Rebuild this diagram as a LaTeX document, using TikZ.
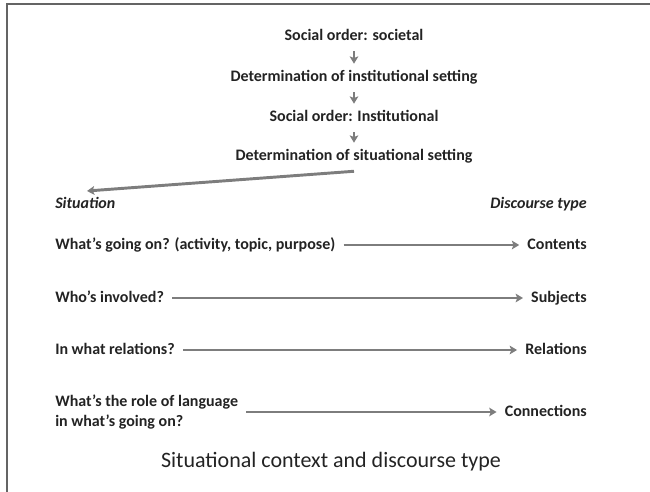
\documentclass[tikz,border=0pt]{standalone}
\usepackage{fontspec}
\setmainfont{Carlito}
\usepackage{xcolor}
\usetikzlibrary{arrows.meta}
\definecolor{arrowgray}{RGB}{125,125,125}
\definecolor{textgray}{RGB}{35,35,35}
\definecolor{framegray}{RGB}{100,100,100}
\tikzset{
	txt/.style={font=\bfseries\fontsize{12}{15}\selectfont, text=textgray, inner sep=0pt, text height=9pt, text depth=3pt},
	head/.style={txt, font=\bfseries\itshape\fontsize{12}{15}\selectfont},
	flow/.style={draw=arrowgray, line width=2.2pt, -{Stealth[length=5.5pt,width=6.5pt,inset=1.2pt]}, shorten <=6pt, shorten >=6pt}
}

\begin{document}
\begin{tikzpicture}[x=0.75pt,y=-0.75pt]
		\useasboundingbox (0,0) rectangle (650,492);
		\draw[framegray, line width=1.8pt] (7,492) -- (7,4) -- (650,4);
		\foreach \y/\t [count=\i] in {37/Social order: societal, 78/Determination of institutional setting, 118/Social order: Institutional, 157/Determination of situational setting}
			{
				\node[txt] (s-\i) at (354,\y) {\t};
			}
		\foreach \i [evaluate=\i as \j using int(\i+1)] in {1,2,3}
			\draw[flow, line width=1.8pt, shorten <=4.5pt, shorten >=4.5pt] (s-\i) -- (s-\j);
		\coordinate (sit-tip) at (87,191);
		\draw[flow, shorten <=0pt, shorten >=0pt] ([yshift=-4.5pt]s-4.south) -- (sit-tip);
		\node[head, anchor=west] (sit) at (55,204) {Situation};
		\node[head, anchor=east] (dis) at (587,204) {Discourse type};
		\foreach \y/\q/\d [count=\i] in {245/{What’s going on? (activity, topic, purpose)}/Contents, 298/Who’s involved?/Subjects, 350/In what relations?/Relations}
			{
				\node[txt, anchor=west] (q-\i) at (55,\y) {\q};
				\node[txt, anchor=east] (d-\i) at (587,\y) {\d};
				\draw[flow] (q-\i) -- (d-\i);
			}
		\node[txt, anchor=west, align=left, text height=, text depth=] (q-4) at (55,412) {What’s the role of language\\in what’s going on?};
		\node[txt, anchor=east] (d-4) at (587,412) {Connections};
		\draw[flow] (q-4) -- (d-4);
		\node[font=\fontsize{16.5}{20}\selectfont, text=textgray, inner sep=0pt] (title) at (331,462) {Situational context and discourse type};
	\end{tikzpicture}
\end{document}
